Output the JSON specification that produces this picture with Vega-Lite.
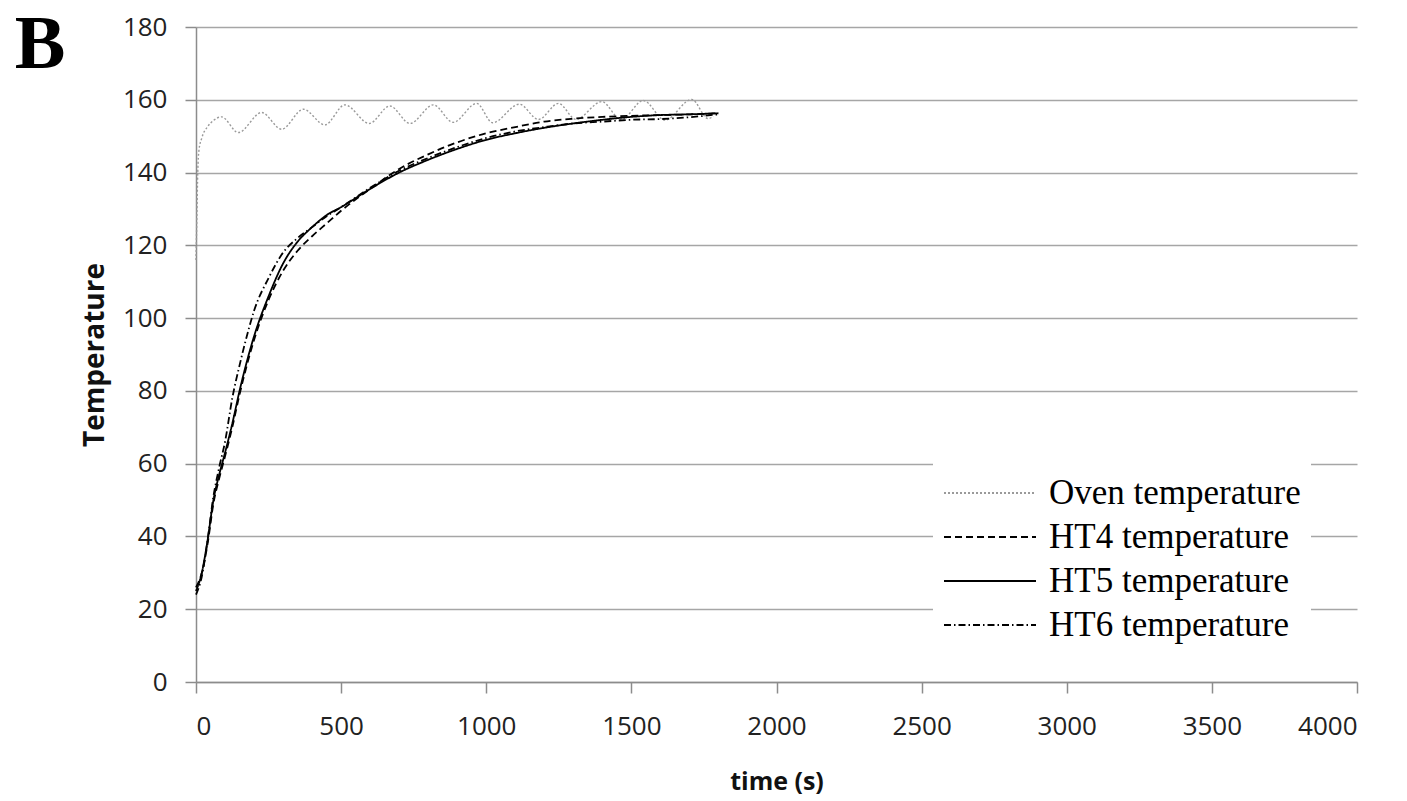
{
  "$schema": "https://vega.github.io/schema/vega-lite/v6.json",
  "width": 1161,
  "height": 655,
  "autosize": "none",
  "padding": {"left": 196, "top": 27, "right": 50, "bottom": 119},
  "background": "white",
  "title": {"text": "B", "orient": "left", "anchor": "end", "frame": "group", "angle": 0, "align": "left", "baseline": "alphabetic", "offset": 16, "dy": 41, "font": "Liberation Serif", "fontSize": 76, "fontWeight": "bold", "color": "black"},
  "config": {
    "view": {"stroke": null},
    "axis": {"labelFont": "Open Sans", "labelFontSize": 26, "labelColor": "#222222", "titleFont": "Open Sans", "titleFontSize": 25, "titleFontWeight": "bold", "titleColor": "#111111", "domainColor": "#8c8c8c", "domainWidth": 1.5, "tickColor": "#8c8c8c", "tickWidth": 1.5, "tickSize": 11, "gridColor": "#a6a6a6", "gridWidth": 1.5}
  },
  "data": {"values": [
    {"series": "Oven temperature", "t": 0, "temp": 116},
    {"series": "Oven temperature", "t": 3, "temp": 128},
    {"series": "Oven temperature", "t": 6, "temp": 140},
    {"series": "Oven temperature", "t": 10, "temp": 146},
    {"series": "Oven temperature", "t": 20, "temp": 149.5},
    {"series": "Oven temperature", "t": 40, "temp": 152.6},
    {"series": "Oven temperature", "t": 60, "temp": 154.3},
    {"series": "Oven temperature", "t": 88, "temp": 155.3},
    {"series": "Oven temperature", "t": 146, "temp": 151},
    {"series": "Oven temperature", "t": 226, "temp": 156.5},
    {"series": "Oven temperature", "t": 295, "temp": 151.9},
    {"series": "Oven temperature", "t": 370, "temp": 157.4},
    {"series": "Oven temperature", "t": 444, "temp": 153.1},
    {"series": "Oven temperature", "t": 513, "temp": 158.6},
    {"series": "Oven temperature", "t": 597, "temp": 153.5},
    {"series": "Oven temperature", "t": 668, "temp": 158.3},
    {"series": "Oven temperature", "t": 737, "temp": 153.5},
    {"series": "Oven temperature", "t": 818, "temp": 158.6},
    {"series": "Oven temperature", "t": 886, "temp": 153.8},
    {"series": "Oven temperature", "t": 967, "temp": 159},
    {"series": "Oven temperature", "t": 1022, "temp": 153.7},
    {"series": "Oven temperature", "t": 1114, "temp": 158.8},
    {"series": "Oven temperature", "t": 1180, "temp": 154.6},
    {"series": "Oven temperature", "t": 1249, "temp": 159},
    {"series": "Oven temperature", "t": 1309, "temp": 154.6},
    {"series": "Oven temperature", "t": 1398, "temp": 159.5},
    {"series": "Oven temperature", "t": 1465, "temp": 154.5},
    {"series": "Oven temperature", "t": 1541, "temp": 159.8},
    {"series": "Oven temperature", "t": 1616, "temp": 154.4},
    {"series": "Oven temperature", "t": 1708, "temp": 160.1},
    {"series": "Oven temperature", "t": 1765, "temp": 154.8},
    {"series": "Oven temperature", "t": 1782, "temp": 155.5},

    {"series": "HT4 temperature", "t": 0, "temp": 26},
    {"series": "HT4 temperature", "t": 20, "temp": 30},
    {"series": "HT4 temperature", "t": 40, "temp": 38},
    {"series": "HT4 temperature", "t": 60, "temp": 49},
    {"series": "HT4 temperature", "t": 80, "temp": 56},
    {"series": "HT4 temperature", "t": 100, "temp": 62},
    {"series": "HT4 temperature", "t": 125, "temp": 70},
    {"series": "HT4 temperature", "t": 150, "temp": 79},
    {"series": "HT4 temperature", "t": 175, "temp": 87},
    {"series": "HT4 temperature", "t": 200, "temp": 94},
    {"series": "HT4 temperature", "t": 250, "temp": 105},
    {"series": "HT4 temperature", "t": 300, "temp": 113},
    {"series": "HT4 temperature", "t": 350, "temp": 118.5},
    {"series": "HT4 temperature", "t": 400, "temp": 122.5},
    {"series": "HT4 temperature", "t": 450, "temp": 126},
    {"series": "HT4 temperature", "t": 500, "temp": 129.5},
    {"series": "HT4 temperature", "t": 600, "temp": 135.5},
    {"series": "HT4 temperature", "t": 700, "temp": 141},
    {"series": "HT4 temperature", "t": 800, "temp": 145},
    {"series": "HT4 temperature", "t": 900, "temp": 148.3},
    {"series": "HT4 temperature", "t": 1000, "temp": 150.8},
    {"series": "HT4 temperature", "t": 1100, "temp": 152.5},
    {"series": "HT4 temperature", "t": 1200, "temp": 154},
    {"series": "HT4 temperature", "t": 1300, "temp": 154.8},
    {"series": "HT4 temperature", "t": 1400, "temp": 155.3},
    {"series": "HT4 temperature", "t": 1500, "temp": 155.6},
    {"series": "HT4 temperature", "t": 1600, "temp": 155.8},
    {"series": "HT4 temperature", "t": 1700, "temp": 156},
    {"series": "HT4 temperature", "t": 1800, "temp": 156.3},

    {"series": "HT5 temperature", "t": 0, "temp": 25},
    {"series": "HT5 temperature", "t": 20, "temp": 30},
    {"series": "HT5 temperature", "t": 40, "temp": 39},
    {"series": "HT5 temperature", "t": 60, "temp": 50},
    {"series": "HT5 temperature", "t": 80, "temp": 57},
    {"series": "HT5 temperature", "t": 100, "temp": 63},
    {"series": "HT5 temperature", "t": 125, "temp": 71},
    {"series": "HT5 temperature", "t": 150, "temp": 80},
    {"series": "HT5 temperature", "t": 175, "temp": 88},
    {"series": "HT5 temperature", "t": 200, "temp": 95},
    {"series": "HT5 temperature", "t": 250, "temp": 106},
    {"series": "HT5 temperature", "t": 300, "temp": 115},
    {"series": "HT5 temperature", "t": 350, "temp": 121},
    {"series": "HT5 temperature", "t": 400, "temp": 125},
    {"series": "HT5 temperature", "t": 450, "temp": 128.3},
    {"series": "HT5 temperature", "t": 500, "temp": 130.5},
    {"series": "HT5 temperature", "t": 600, "temp": 135.5},
    {"series": "HT5 temperature", "t": 700, "temp": 140},
    {"series": "HT5 temperature", "t": 800, "temp": 143.5},
    {"series": "HT5 temperature", "t": 900, "temp": 146.5},
    {"series": "HT5 temperature", "t": 1000, "temp": 149},
    {"series": "HT5 temperature", "t": 1100, "temp": 150.8},
    {"series": "HT5 temperature", "t": 1200, "temp": 152.3},
    {"series": "HT5 temperature", "t": 1300, "temp": 153.5},
    {"series": "HT5 temperature", "t": 1400, "temp": 154.5},
    {"series": "HT5 temperature", "t": 1500, "temp": 155.3},
    {"series": "HT5 temperature", "t": 1600, "temp": 155.8},
    {"series": "HT5 temperature", "t": 1700, "temp": 156},
    {"series": "HT5 temperature", "t": 1800, "temp": 156.3},

    {"series": "HT6 temperature", "t": 0, "temp": 24},
    {"series": "HT6 temperature", "t": 20, "temp": 29},
    {"series": "HT6 temperature", "t": 40, "temp": 39},
    {"series": "HT6 temperature", "t": 60, "temp": 51},
    {"series": "HT6 temperature", "t": 80, "temp": 59},
    {"series": "HT6 temperature", "t": 100, "temp": 66},
    {"series": "HT6 temperature", "t": 125, "temp": 78},
    {"series": "HT6 temperature", "t": 150, "temp": 87},
    {"series": "HT6 temperature", "t": 175, "temp": 95},
    {"series": "HT6 temperature", "t": 200, "temp": 102},
    {"series": "HT6 temperature", "t": 250, "temp": 111},
    {"series": "HT6 temperature", "t": 300, "temp": 118},
    {"series": "HT6 temperature", "t": 350, "temp": 122},
    {"series": "HT6 temperature", "t": 400, "temp": 125},
    {"series": "HT6 temperature", "t": 450, "temp": 128},
    {"series": "HT6 temperature", "t": 500, "temp": 130.5},
    {"series": "HT6 temperature", "t": 600, "temp": 135.8},
    {"series": "HT6 temperature", "t": 700, "temp": 140.5},
    {"series": "HT6 temperature", "t": 800, "temp": 144},
    {"series": "HT6 temperature", "t": 900, "temp": 147},
    {"series": "HT6 temperature", "t": 1000, "temp": 149.5},
    {"series": "HT6 temperature", "t": 1100, "temp": 151.3},
    {"series": "HT6 temperature", "t": 1200, "temp": 152.5},
    {"series": "HT6 temperature", "t": 1300, "temp": 153.5},
    {"series": "HT6 temperature", "t": 1400, "temp": 154},
    {"series": "HT6 temperature", "t": 1500, "temp": 154.5},
    {"series": "HT6 temperature", "t": 1600, "temp": 154.7},
    {"series": "HT6 temperature", "t": 1700, "temp": 155.2},
    {"series": "HT6 temperature", "t": 1800, "temp": 156}
  ]},
  "encoding": {
    "x": {"field": "t", "type": "quantitative", "title": "time (s)",
      "scale": {"domain": [0, 4000], "nice": false},
      "axis": {"values": [0, 500, 1000, 1500, 2000, 2500, 3000, 3500, 4000], "format": "d", "grid": false, "labelPadding": 20, "titlePadding": 30}},
    "y": {"field": "temp", "type": "quantitative", "title": "Temperature",
      "scale": {"domain": [0, 180], "nice": false},
      "axis": {"values": [0, 20, 40, 60, 80, 100, 120, 140, 160, 180], "grid": true, "labelPadding": 18, "titlePadding": 13, "titleFontSize": 28}},
    "color": {"field": "series", "type": "nominal",
      "scale": {"domain": ["Oven temperature", "HT4 temperature", "HT5 temperature", "HT6 temperature"], "range": ["#9a9a9a", "#000000", "#000000", "#000000"]},
      "legend": {"orient": "none", "legendX": 737, "legendY": 434, "title": null, "fillColor": "white", "padding": 10,
        "labelFont": "Liberation Serif", "labelFontSize": 35, "labelColor": "black", "labelLimit": 400, "labelOffset": 12,
        "symbolType": "stroke", "symbolSize": 8464, "symbolStrokeWidth": 2, "clipHeight": 44, "rowPadding": 0,
        "encode": {"symbols": {"update": {"stroke": {"value": "black"}}}}}},
    "strokeDash": {"field": "series", "type": "nominal",
      "scale": {"domain": ["Oven temperature", "HT4 temperature", "HT5 temperature", "HT6 temperature"], "range": [[2, 2], [7, 4], [1, 0], [7, 3, 1.5, 3]]},
      "legend": {"orient": "none", "legendX": 737, "legendY": 434, "title": null, "fillColor": "white", "padding": 10,
        "labelFont": "Liberation Serif", "labelFontSize": 35, "labelColor": "black", "labelLimit": 400, "labelOffset": 12,
        "symbolType": "stroke", "symbolSize": 8464, "symbolStrokeWidth": 2, "clipHeight": 44, "rowPadding": 0,
        "encode": {"symbols": {"update": {"stroke": {"value": "black"}}}}}}
  },
  "layer": [
    {"transform": [{"filter": "datum.series === 'Oven temperature'"}],
     "mark": {"type": "line", "interpolate": "monotone", "strokeWidth": 1.4}},
    {"transform": [{"filter": "datum.series !== 'Oven temperature'"}],
     "mark": {"type": "line", "interpolate": "monotone", "strokeWidth": 1.8}}
  ]
}
